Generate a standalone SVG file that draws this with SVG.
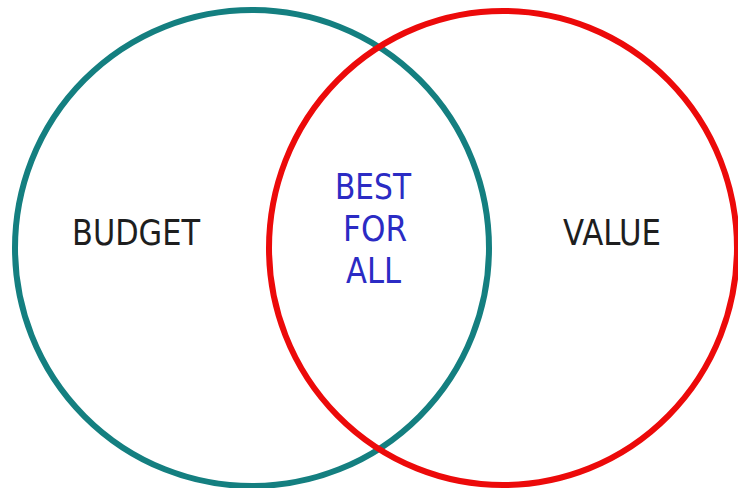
<svg xmlns="http://www.w3.org/2000/svg" width="738" height="488" viewBox="0 0 738 488">
  <style>
    .ring { fill: none; stroke-width: 6; }
    .label { font-family: "DejaVu Sans", "Liberation Sans", sans-serif; font-size: 36px; fill: #1e1e1e; }
    .mid { fill: #2b2bc4; }
  </style>
  <rect width="738" height="488" fill="#ffffff"/>
  <g id="budget">
    <ellipse class="ring" cx="252" cy="248" rx="237" ry="238" stroke="#147f80"/>
    <text class="label" x="72" y="245" textLength="128" lengthAdjust="spacingAndGlyphs">BUDGET</text>
  </g>
  <g id="value">
    <ellipse class="ring" cx="503" cy="248" rx="234" ry="237" stroke="#ec0a0a"/>
    <text class="label" x="563" y="245" textLength="98" lengthAdjust="spacingAndGlyphs">VALUE</text>
  </g>
  <g id="best-for-all">
    <text class="label mid" x="335" y="199" textLength="76" lengthAdjust="spacingAndGlyphs">BEST</text>
    <text class="label mid" x="343" y="241" textLength="64" lengthAdjust="spacingAndGlyphs">FOR</text>
    <text class="label mid" x="346" y="283" textLength="55" lengthAdjust="spacingAndGlyphs">ALL</text>
  </g>
</svg>
